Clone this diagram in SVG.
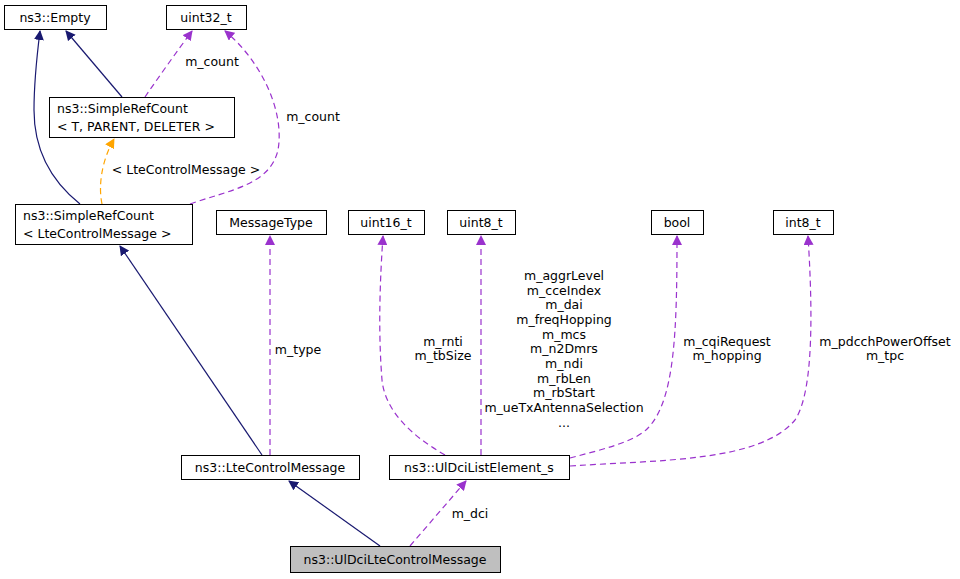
<svg xmlns="http://www.w3.org/2000/svg" width="960" height="579" viewBox="0 0 960 579">
<style>
text{font-family:"DejaVu Sans",sans-serif;font-size:12.5px;fill:#000}
.n rect{fill:#fff;stroke:#000;stroke-width:1}
.s{fill:none;stroke:#191970;stroke-width:1.2}
.p{fill:none;stroke:#9a32cd;stroke-width:1.2;stroke-dasharray:6,4}
.o{fill:none;stroke:#ffa500;stroke-width:1.2;stroke-dasharray:6,4}
</style>
<defs>
<marker id="ms" viewBox="0 0 10 10" refX="9" refY="5" markerWidth="10" markerHeight="10" markerUnits="userSpaceOnUse" orient="auto"><path d="M0,0L10,5L0,10z" fill="#191970"/></marker>
<marker id="mp" viewBox="0 0 10 10" refX="9" refY="5" markerWidth="10" markerHeight="10" markerUnits="userSpaceOnUse" orient="auto"><path d="M0,0L10,5L0,10z" fill="#9a32cd"/></marker>
<marker id="mo" viewBox="0 0 10 10" refX="9" refY="5" markerWidth="10" markerHeight="10" markerUnits="userSpaceOnUse" orient="auto"><path d="M0,0L10,5L0,10z" fill="#ffa500"/></marker>
</defs>
<rect width="960" height="579" fill="#fff"/>
<g id="connectors">
<path class="s" marker-end="url(#ms)" d="M80,204C50,180 34,150 34,110C34,80 37,55 40,31"/>
<path class="s" marker-end="url(#ms)" d="M122,97L66,31"/>
<path class="p" marker-end="url(#mp)" d="M145,97C160,75 178,50 192,31"/>
<text x="212" y="66" text-anchor="middle">m_count</text>
<path class="p" marker-end="url(#mp)" d="M190,204C230,190 270,185 278,150C285,110 260,60 225,31"/>
<text x="313" y="121" text-anchor="middle">m_count</text>
<path class="o" marker-end="url(#mo)" d="M102,204C98,185 102,160 114,139"/>
<text x="186" y="174" text-anchor="middle">&lt; LteControlMessage &gt;</text>
<path class="s" marker-end="url(#ms)" d="M262,455L120,246"/>
<path class="p" marker-end="url(#mp)" d="M270,455L270,236"/>
<text x="298" y="354" text-anchor="middle">m_type</text>
<path class="p" marker-end="url(#mp)" d="M445,455C410,435 385,410 382,380C378,330 380,280 383,236"/>
<text x="443" y="346" text-anchor="middle">m_rnti</text>
<text x="443" y="360" text-anchor="middle">m_tbSize</text>
<path class="p" marker-end="url(#mp)" d="M481,455L481,236"/>
<g text-anchor="middle">
<text x="564" y="280">m_aggrLevel</text><text x="564" y="295">m_cceIndex</text><text x="564" y="309">m_dai</text><text x="564" y="324">m_freqHopping</text><text x="564" y="339">m_mcs</text><text x="564" y="353">m_n2Dmrs</text><text x="564" y="368">m_ndi</text><text x="564" y="383">m_rbLen</text><text x="564" y="397">m_rbStart</text><text x="564" y="412">m_ueTxAntennaSelection</text><text x="564" y="427">...</text>
</g>
<path class="p" marker-end="url(#mp)" d="M570,458C600,450 635,442 648,428C675,400 677,330 677,236"/>
<text x="727" y="346" text-anchor="middle">m_cqiRequest</text>
<text x="727" y="360" text-anchor="middle">m_hopping</text>
<path class="p" marker-end="url(#mp)" d="M570,466C660,460 760,462 795,420C815,390 812,300 808,236"/>
<text x="885" y="346" text-anchor="middle">m_pdcchPowerOffset</text>
<text x="885" y="360" text-anchor="middle">m_tpc</text>
<path class="s" marker-end="url(#ms)" d="M380,546L289,481"/>
<path class="p" marker-end="url(#mp)" d="M410,546L466,481"/>
<text x="470" y="518" text-anchor="middle">m_dci</text>
</g>
<g id="empty" class="n"><rect x="4.5" y="5.5" width="102" height="24"/><text x="55" y="22" text-anchor="middle">ns3::Empty</text></g>
<g id="uint32" class="n"><rect x="166.5" y="5.5" width="80" height="24"/><text x="206" y="22" text-anchor="middle">uint32_t</text></g>
<g id="src_t" class="n"><rect x="49.5" y="97.5" width="185" height="40"/><text x="57" y="113">ns3::SimpleRefCount</text><text x="57" y="131">&lt; T, PARENT, DELETER &gt;</text></g>
<g id="src_lcm" class="n"><rect x="15.5" y="204.5" width="177" height="40"/><text x="23" y="220">ns3::SimpleRefCount</text><text x="23" y="238">&lt; LteControlMessage &gt;</text></g>
<g id="msgtype" class="n"><rect x="216.5" y="210.5" width="110" height="24"/><text x="271" y="227" text-anchor="middle">MessageType</text></g>
<g id="uint16" class="n"><rect x="348.5" y="210.5" width="76" height="24"/><text x="386" y="227" text-anchor="middle">uint16_t</text></g>
<g id="uint8" class="n"><rect x="447.5" y="210.5" width="68" height="24"/><text x="481" y="227" text-anchor="middle">uint8_t</text></g>
<g id="bool" class="n"><rect x="651.5" y="210.5" width="52" height="24"/><text x="677" y="227" text-anchor="middle">bool</text></g>
<g id="int8" class="n"><rect x="773.5" y="210.5" width="60" height="24"/><text x="803" y="227" text-anchor="middle">int8_t</text></g>
<g id="ltecm" class="n"><rect x="181.5" y="455.5" width="178" height="24"/><text x="270" y="472" text-anchor="middle">ns3::LteControlMessage</text></g>
<g id="uldcile" class="n"><rect x="389.5" y="455.5" width="180" height="24"/><text x="479" y="472" text-anchor="middle">ns3::UlDciListElement_s</text></g>
<g id="uldcilcm" class="n"><rect x="290.5" y="546.5" width="210" height="26" style="fill:#bfbfbf"/><text x="395" y="564" text-anchor="middle">ns3::UlDciLteControlMessage</text></g>
</svg>
